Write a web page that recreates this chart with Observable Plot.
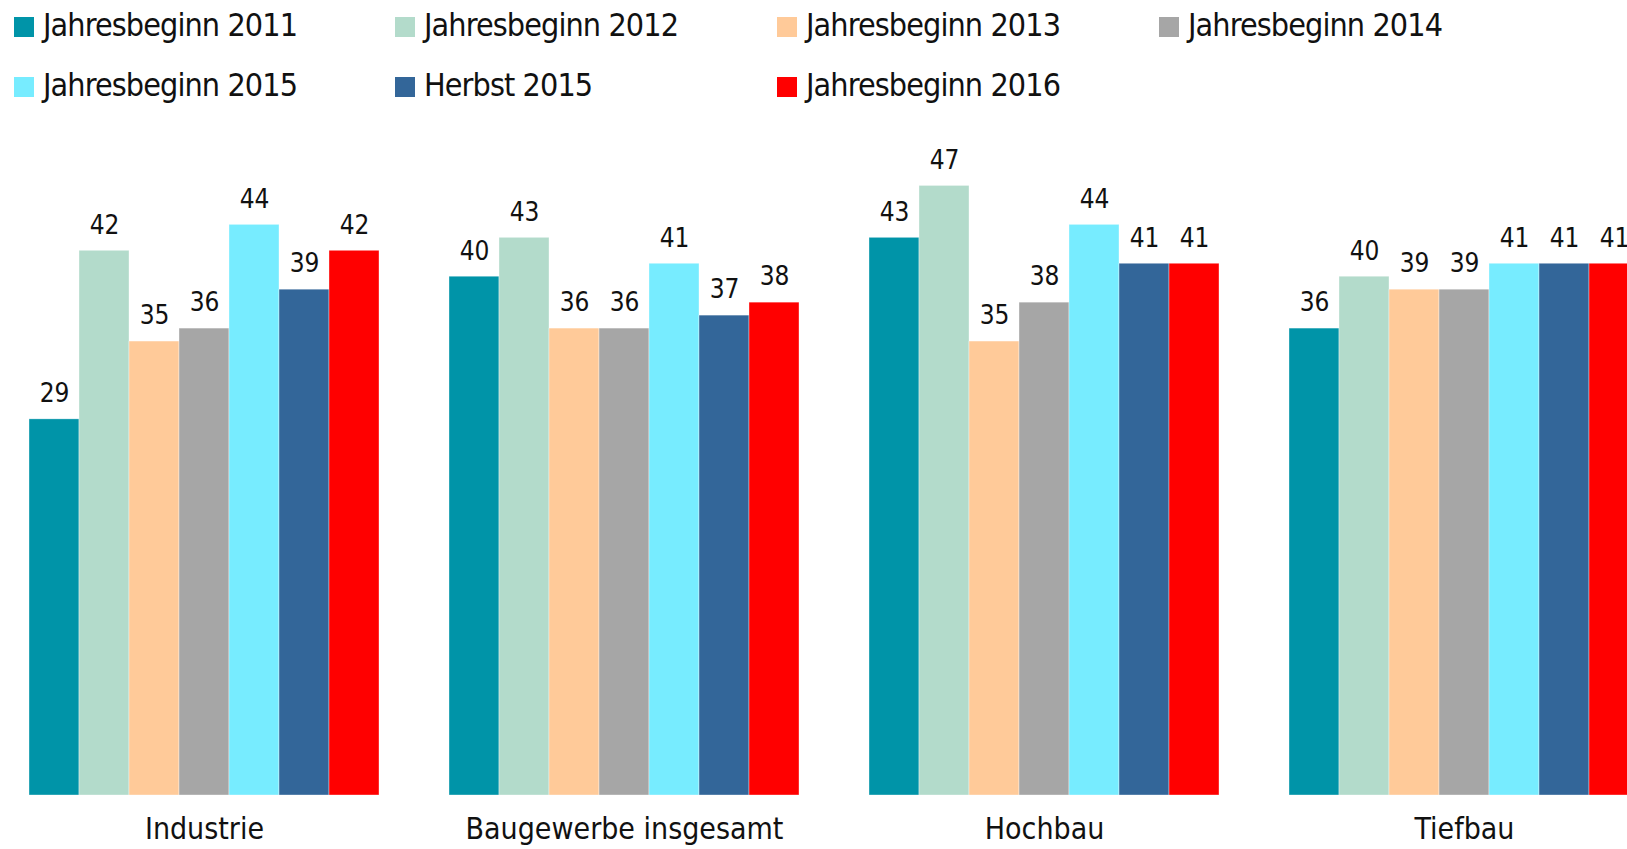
<!DOCTYPE html>
<html>
<head>
<meta charset="utf-8">
<script src="https://cdn.jsdelivr.net/npm/d3@7"></script>
<script src="https://cdn.jsdelivr.net/npm/@observablehq/plot@0.6"></script>
<style>
  html, body { margin: 0; padding: 0; background: #fff; overflow: hidden; }
  body { width: 1627px; height: 849px; font-family: "Liberation Sans Narrow", "DejaVu Sans Condensed", "Arial Narrow", "Liberation Sans", sans-serif; }
  #legend { position: relative; height: 110px; }
  .item { position: absolute; height: 40px; display: flex; align-items: center; font-size: 32px; letter-spacing: -0.9px; color: #111; white-space: nowrap; }
  .sw { width: 20px; height: 20px; margin-right: 9px; margin-top: 3px; }
  #chart { width: 1640px; }
  #chart svg { display: block; max-width: none !important; width: 1640px; height: 739px; }
</style>
</head>
<body>
<div id="legend"></div>
<div id="chart"></div>
<script>
const categories = ["Industrie", "Baugewerbe insgesamt", "Hochbau", "Tiefbau"];
const seriesNames = ["Jahresbeginn 2011", "Jahresbeginn 2012", "Jahresbeginn 2013", "Jahresbeginn 2014", "Jahresbeginn 2015", "Herbst 2015", "Jahresbeginn 2016"];
const seriesColors = ["#0094A8", "#B3DBCB", "#FFCA99", "#A6A6A6", "#77ECFF", "#336699", "#FF0000"];
const valuesIndustrie = [29, 42, 35, 36, 44, 39, 42];
const valuesBaugewerbe = [40, 43, 36, 36, 41, 37, 38];
const valuesHochbau = [43, 47, 35, 38, 44, 41, 41];
const valuesTiefbau = [36, 40, 39, 39, 41, 41, 41];
const allValues = [valuesIndustrie, valuesBaugewerbe, valuesHochbau, valuesTiefbau];

const data = [];
categories.forEach((c, i) => seriesNames.forEach((s, j) => data.push({category: c, series: s, value: allValues[i][j]})));

// legend (4 columns, 2 rows)
const legend = document.getElementById("legend");
const colX = [14, 395, 777, 1159];
const rowY = [5, 65];
seriesNames.forEach((s, j) => {
  const div = document.createElement("div");
  div.className = "item";
  div.style.left = colX[j % 4] + "px";
  div.style.top = rowY[Math.floor(j / 4)] + "px";
  div.innerHTML = `<span class="sw" style="background:${seriesColors[j]}"></span><span>${s}</span>`;
  legend.appendChild(div);
});

const chart = Plot.plot({
  width: 1640,
  height: 739,
  marginLeft: 29,
  marginRight: 1,
  marginTop: 36.5,
  marginBottom: 54,
  style: {fontFamily: '"Liberation Sans Narrow", "DejaVu Sans Condensed", "Arial Narrow", "Liberation Sans", sans-serif', background: "#fff", maxWidth: "none"},
  fx: {domain: categories, paddingInner: 70 / 420, paddingOuter: 0, axis: null},
  x: {domain: seriesNames, padding: 0, axis: null},
  y: {domain: [0, 50], axis: null},
  color: {domain: seriesNames, range: seriesColors},
  marks: [
    Plot.barY(data, {fx: "category", x: "series", y: "value", fill: "series", stroke: "#fff", strokeWidth: 0.6, strokeOpacity: 0.6}),
    Plot.text(data, {fx: "category", x: "series", y: "value", text: d => String(d.value), dy: -25.5, fontSize: 26, fill: "#111"}),
    Plot.text(categories, {fx: d => d, frameAnchor: "bottom", text: d => d, dy: 43, fontSize: 30, fill: "#111"})
  ]
});
document.getElementById("chart").appendChild(chart);
</script>
</body>
</html>
